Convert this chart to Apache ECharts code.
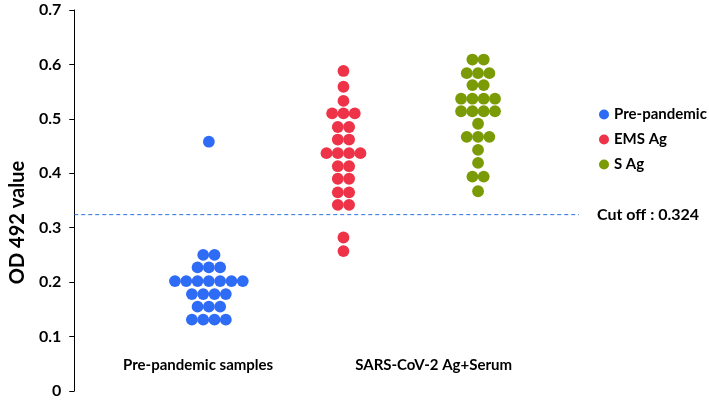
<!DOCTYPE html>
<html>
<head>
<meta charset="utf-8">
<script src="https://cdn.jsdelivr.net/npm/echarts@6/dist/echarts.min.js"></script>
<style>html,body{margin:0;padding:0;background:#fff}#c{width:709px;height:400px}</style>
</head>
<body>
<div id="c"></div>
<script>
// ---- data ----
const seriesNames = ['Pre-pandemic', 'EMS Ag', 'S Ag'];
const groupPositions = [1, 2, 3];
const prePandemic = [0.458,
  0.250, 0.250,
  0.227, 0.227, 0.227,
  0.202, 0.202, 0.202, 0.202, 0.202, 0.202, 0.202,
  0.178, 0.178, 0.178, 0.178,
  0.155, 0.155, 0.155,
  0.131, 0.131, 0.131, 0.131];
const emsAg = [0.588, 0.559, 0.533,
  0.510, 0.510, 0.510,
  0.485, 0.485,
  0.462, 0.462,
  0.437, 0.437, 0.437, 0.437,
  0.413, 0.413,
  0.390, 0.390,
  0.365, 0.365,
  0.342, 0.342,
  0.282, 0.257];
const sAg = [0.609, 0.609,
  0.584, 0.584, 0.584,
  0.562, 0.562,
  0.537, 0.537, 0.537, 0.537,
  0.514, 0.514, 0.514, 0.514,
  0.491,
  0.467, 0.467, 0.467,
  0.443, 0.419,
  0.394, 0.394,
  0.367];
const cutOff = 0.324;
const categoryLabels = ['Pre-pandemic samples', 'SARS-CoV-2 Ag+Serum'];
const categoryLabelPositions = [0.92, 2.67];
const yTicks = [0, 0.1, 0.2, 0.3, 0.4, 0.5, 0.6, 0.7];
const xMin = 0, xMax = 3.75;

// ---- beeswarm layout: equal values spread symmetrically around the group centre ----
const step = 0.084;
function swarm(values, center) {
  const counts = {};
  values.forEach(v => { counts[v] = (counts[v] || 0) + 1; });
  const seen = {};
  return values.map(v => {
    const n = counts[v];
    const i = seen[v] = (seen[v] === undefined ? 0 : seen[v] + 1);
    return [center + (i - (n - 1) / 2) * step, v];
  });
}

const colors = ['#2F6CF6', '#EE3349', '#7B9B06'];
const lineColor = '#2A72DA';
const font = 'Lato';
const groups = [prePandemic, emsAg, sAg];

const series = groups.map((g, k) => ({
  name: seriesNames[k],
  type: 'scatter',
  symbol: 'circle',
  symbolSize: 11.8,
  itemStyle: { color: colors[k], opacity: 1 },
  data: swarm(g, groupPositions[k])
}));
series.push({
  name: 'Cut off',
  type: 'line',
  silent: true,
  showSymbol: false,
  symbol: 'none',
  color: lineColor,
  lineStyle: { type: [4, 3], color: lineColor, width: 1 },
  endLabel: {
    show: true, distance: 18, formatter: 'Cut off : ' + cutOff,
    color: '#000', fontWeight: 'bold', fontSize: 16, fontFamily: font
  },
  data: [[xMin, cutOff], [xMax, cutOff]]
});

const chart = echarts.init(document.getElementById('c'), null, { renderer: 'canvas' });
chart.setOption({
  animation: false,
  backgroundColor: '#fff',
  grid: { left: 67, right: 130, top: 10, bottom: 9 },
  legend: {
    data: seriesNames,
    orient: 'vertical',
    left: 594, top: 102,
    icon: 'circle',
    itemWidth: 10, itemHeight: 10, itemGap: 10,
    textStyle: { color: '#000', fontWeight: 'bold', fontSize: 15, fontFamily: font }
  },
  xAxis: {
    type: 'value', min: xMin, max: xMax,
    axisLine: { show: false }, axisTick: { show: false }, splitLine: { show: false },
    axisLabel: {
      customValues: categoryLabelPositions,
      formatter: v => categoryLabels[categoryLabelPositions.indexOf(v)] || '',
      margin: -33, verticalAlign: 'top',
      color: '#000', fontWeight: 'bold', fontSize: 15, fontFamily: font
    }
  },
  yAxis: {
    type: 'value', min: 0, max: 0.7, interval: 0.1,
    name: 'OD 492 value', nameLocation: 'middle', nameGap: 46,
    nameTextStyle: { color: '#000', fontWeight: 'bold', fontSize: 20, fontFamily: font, padding: [0, 44, 0, 0] },
    axisLine: { show: true, lineStyle: { color: '#000', width: 1 } },
    axisTick: { show: true, length: 5, lineStyle: { color: '#000' } },
    splitLine: { show: false },
    axisLabel: {
      margin: 13, color: '#000', fontWeight: 'bold', fontSize: 16, fontFamily: font,
      formatter: v => { const t = yTicks.find(x => Math.abs(x - v) < 1e-9); return t === undefined ? '' : String(t); }
    }
  },
  series: series
});
</script>
</body>
</html>
